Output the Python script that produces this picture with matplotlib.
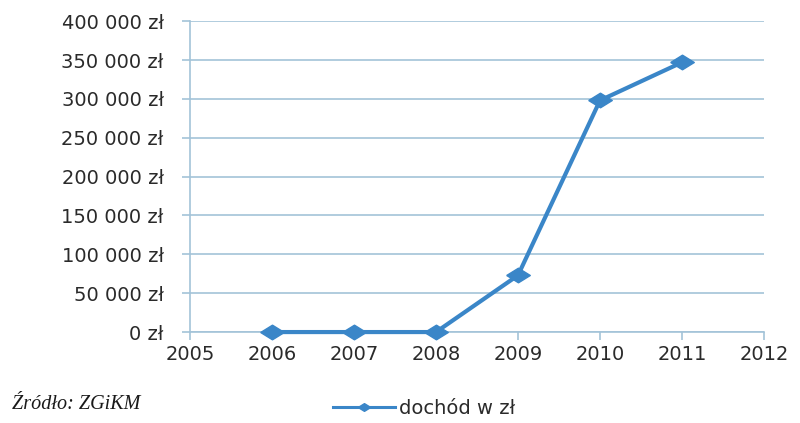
import matplotlib.pyplot as plt
from matplotlib.ticker import FuncFormatter

# Dochód w kolejnych latach
years = [2006, 2007, 2008, 2009, 2010, 2011]
income = [0, 0, 0, 73000, 298000, 347000]

LINE_COLOR = '#3a86c8'
GRID_COLOR = '#a3c3d8'
TEXT_COLOR = '#2a2a2a'

# romb szerszy niż wyższy
wide_diamond = [(-1, 0), (0, 0.62), (1, 0), (0, -0.62), (-1, 0)]

fig = plt.figure(figsize=(8, 4.23), dpi=100)
ax = fig.add_axes([0.2375, 0.215, 0.7175, 0.735])

ax.plot(years, income, color=LINE_COLOR, lw=3, marker=wide_diamond, ms=17,
        label='dochód w zł', zorder=3, clip_on=False)

ax.set_xlim(2005, 2012)
ax.set_ylim(0, 400000)
ax.set_xticks(range(2005, 2013))
ax.set_yticks(range(0, 400001, 50000))


def pln(v, pos):
    # spacja jako separator tysięcy
    return '{:,.0f} zł'.format(v).replace(',', ' ')


ax.yaxis.set_major_formatter(FuncFormatter(pln))
ax.grid(axis='y', color=GRID_COLOR, lw=1.2)
ax.set_axisbelow(True)

for side in ['top', 'right']:
    ax.spines[side].set_visible(False)
for side in ['left', 'bottom']:
    ax.spines[side].set_color(GRID_COLOR)
    ax.spines[side].set_linewidth(1.2)

ax.tick_params(axis='both', colors=GRID_COLOR, length=6, width=1.2,
               labelcolor=TEXT_COLOR, labelsize=14)
ax.tick_params(axis='y', pad=13)
ax.tick_params(axis='x', pad=3)

fig.text(0.015, 0.043, 'Źródło: ZGiKM', fontfamily='Liberation Serif',
         style='italic', fontsize=14.5, color='#1a1a1a', va='center')

leg = fig.legend(loc='center', bbox_to_anchor=(0.53, 0.035), frameon=False,
                 fontsize=14, handlelength=3.2, handletextpad=0.2,
                 labelcolor=TEXT_COLOR, borderpad=0)
handle = leg.legend_handles[0]
handle.set_linewidth(2.2)
handle.set_markersize(9)

fig.savefig('out.png', dpi=100, facecolor='white')
